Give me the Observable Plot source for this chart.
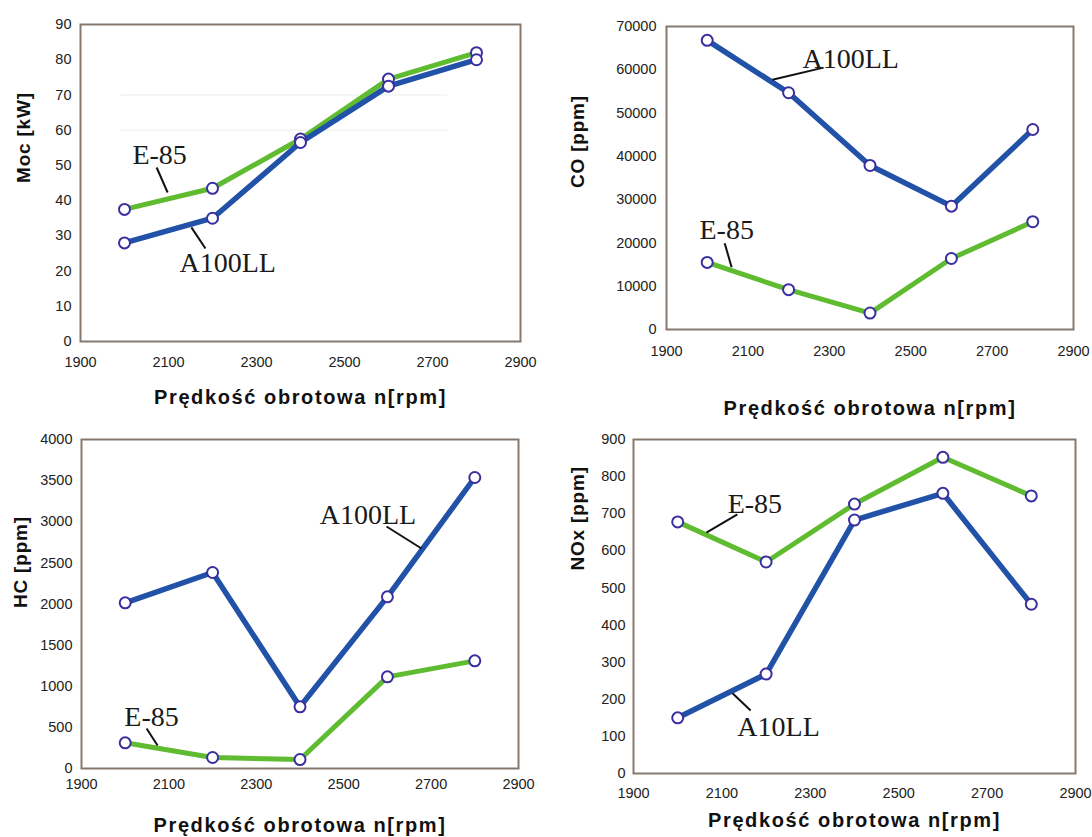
<!DOCTYPE html>
<html><head><meta charset="utf-8">
<script src="https://cdn.jsdelivr.net/npm/d3@7"></script>
<script src="https://cdn.jsdelivr.net/npm/@observablehq/plot@0.6"></script>
<style>
body{margin:0;background:#fff;}
#wrap{position:relative;width:1092px;height:837px;overflow:hidden;background:#fff;}
.panel{position:absolute;}
</style></head><body><div id="wrap"></div>
<script>
// ---- data ----
const rpm = [2000, 2200, 2400, 2600, 2800];
const xTicks = [1900, 2100, 2300, 2500, 2700, 2900];
const xTitle = "Prędkość obrotowa n[rpm]";

const mocE85 = [37.5, 43.5, 57.5, 74.5, 82];
const mocA100 = [28, 35, 56.5, 72.5, 80];
const mocTicks = [0, 10, 20, 30, 40, 50, 60, 70, 80, 90];

const coA100 = [66800, 54700, 37900, 28500, 46200];
const coE85 = [15500, 9200, 3800, 16400, 24900];
const coTicks = [0, 10000, 20000, 30000, 40000, 50000, 60000, 70000];

const hcA100 = [2014, 2383, 750, 2087, 3538];
const hcE85 = [312, 134, 109, 1114, 1309];
const hcTicks = [0, 500, 1000, 1500, 2000, 2500, 3000, 3500, 4000];

const noxE85 = [678, 570, 726, 852, 748];
const noxA10 = [150, 268, 683, 755, 456];
const noxTicks = [0, 100, 200, 300, 400, 500, 600, 700, 800, 900];

const seriesE85 = "E-85";
const seriesA = "A100LL";

// annotation labels (data coords) and leader lines
const mocNotes = [{t: "E-85", x: 2018, y: 52.8}, {t: "A100LL", x: 2125, y: 22.4}];
const mocLeaders = [{x1: 2073, y1: 49.4, x2: 2098, y2: 42.3}, {x1: 2152, y1: 32.4, x2: 2184, y2: 26.4}];
const coNotes = [{t: "A100LL", x: 2234, y: 62590}, {t: "E-85", x: 1981, y: 22950}];
const coLeaders = [{x1: 2160, y1: 57700, x2: 2286, y2: 60500}, {x1: 2043, y1: 19930, x2: 2060, y2: 14370}];
const hcNotes = [{t: "A100LL", x: 2445, y: 3076}, {t: "E-85", x: 1998, y: 620}];
const hcLeaders = [{x1: 2598, y1: 2942, x2: 2678, y2: 2675}, {x1: 2049, y1: 486, x2: 2074, y2: 280}];
const noxNotes = [{t: "E-85", x: 2113, y: 725}, {t: "A10LL", x: 2135, y: 124}];
const noxLeaders = [{x1: 2135, y1: 698, x2: 2065, y2: 649}, {x1: 2124, y1: 216, x2: 2165, y2: 170}];
const mocGrid = [60, 70];

// ---- drawing ----
const BLUE = "#2152a8", GREEN = "#5fbb30", DOT = "#3a2f9f", FRAME = "#85786f";
const sans = "'Liberation Sans', Arial, sans-serif";
const serif = "'Liberation Serif', 'DejaVu Serif', serif";

function rows(vals, s) { return rpm.map((x, i) => ({x, y: vals[i], s})); }

const panels = [
  {left: 0, top: 0, w: 546, h: 420, m: [24, 26, 79, 80], dom: [0, 90], ticks: mocTicks, ylab: "Moc [kW]",
   green: mocE85, blue: mocA100, notes: mocNotes, leaders: mocLeaders, grid: mocGrid,
   xpad: 15, ypad: 9, xTitleDy: 56, yTitleDx: -57, yTitleDy: 0},
  {left: 546, top: 0, w: 546, h: 420, m: [26, 19, 91, 120], dom: [0, 70000], ticks: coTicks, ylab: "CO [ppm]",
   green: coE85, blue: coA100, notes: coNotes, leaders: coLeaders, grid: [],
   xpad: 16, ypad: 10, xTitleDy: 79, yTitleDx: -89, yTitleDy: 10},
  {left: 0, top: 420, w: 546, h: 417, m: [19, 28, 69, 81], dom: [0, 4000], ticks: hcTicks, ylab: "HC [ppm]",
   green: hcE85, blue: hcA100, notes: hcNotes, leaders: hcLeaders, grid: [],
   xpad: 10, ypad: 9, xTitleDy: 57, yTitleDx: -61, yTitleDy: 4},
  {left: 546, top: 420, w: 546, h: 417, m: [19, 17, 64, 87], dom: [0, 900], ticks: noxTicks, ylab: "NOx [ppm]",
   green: noxE85, blue: noxA10, notes: noxNotes, leaders: noxLeaders, grid: [],
   xpad: 14, ypad: 8, xTitleDy: 47, yTitleDx: -56, yTitleDy: -36}
];

const wrap = document.getElementById("wrap");
for (const p of panels) {
  const g = rows(p.green, seriesE85), b = rows(p.blue, seriesA);
  const chart = Plot.plot({
    width: p.w, height: p.h,
    marginTop: p.m[0], marginRight: p.m[1], marginBottom: p.m[2], marginLeft: p.m[3],
    style: {fontFamily: sans, fontSize: "14.5px", color: "#222", background: "transparent", overflow: "visible"},
    x: {domain: [1900, 2900]},
    y: {domain: p.dom},
    marks: [
      Plot.ruleY(p.grid, {x1: 1991, x2: 2734, stroke: "#ececec", strokeWidth: 1}),
      Plot.frame({stroke: FRAME, strokeWidth: 2}),
      Plot.axisX(xTicks, {tickSize: 0, tickPadding: p.xpad, tickFormat: d => String(d), label: null, fill: "#222"}),
      Plot.axisY(p.ticks, {tickSize: 0, tickPadding: p.ypad, tickFormat: d => String(d), label: null, fill: "#222"}),
      Plot.text([xTitle], {frameAnchor: "bottom", dy: p.xTitleDy, lineAnchor: "middle", text: d => d,
        fontWeight: "bold", fontSize: 20, fill: "#111"}),
      Plot.text([p.ylab], {frameAnchor: "left", dx: p.yTitleDx, dy: p.yTitleDy, rotate: -90, lineAnchor: "middle", text: d => d,
        fontWeight: "bold", fontSize: 19, fill: "#111"}),
      Plot.line(g, {x: "x", y: "y", stroke: GREEN, strokeWidth: 5, strokeLinejoin: "round"}),
      Plot.line(b, {x: "x", y: "y", stroke: BLUE, strokeWidth: 5.5, strokeLinejoin: "round"}),
      Plot.dot(g.concat(b), {x: "x", y: "y", r: 5.5, stroke: DOT, strokeWidth: 2, fill: "white"}),
      Plot.link(p.leaders, {x1: "x1", y1: "y1", x2: "x2", y2: "y2", stroke: "#111", strokeWidth: 2}),
      Plot.text(p.notes, {x: "x", y: "y", text: "t", textAnchor: "start", lineAnchor: "middle",
        fontFamily: serif, fontSize: 28, fill: "#1a1a1a"})
    ]
  });
  chart.classList.add("panel");
  chart.style.left = p.left + "px";
  chart.style.top = p.top + "px";
  wrap.appendChild(chart);
}
// letter-spacing on axis titles
document.querySelectorAll("text").forEach(t => {
  if (t.textContent === xTitle) t.setAttribute("letter-spacing", "1.6");
  else if (/\[/.test(t.textContent)) t.setAttribute("letter-spacing", "0.8");
});
</script>
</body></html>
